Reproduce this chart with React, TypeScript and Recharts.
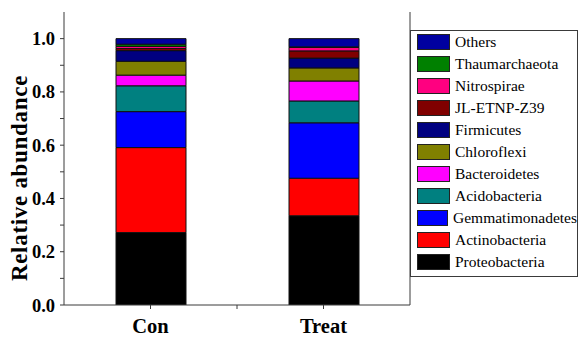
import { BarChart, Bar, XAxis, YAxis } from 'recharts';

// groups and phyla
const groups = ['Con', 'Treat'];
const phyla = [
  'Proteobacteria',
  'Actinobacteria',
  'Gemmatimonadetes',
  'Acidobacteria',
  'Bacteroidetes',
  'Chloroflexi',
  'Firmicutes',
  'JL-ETNP-Z39',
  'Nitrospirae',
  'Thaumarchaeota',
  'Others',
];
const conValues = [0.272, 0.319, 0.135, 0.097, 0.04, 0.052, 0.04, 0.008, 0.008, 0.008, 0.021];
const treatValues = [0.335, 0.141, 0.208, 0.082, 0.075, 0.049, 0.037, 0.027, 0.013, 0.002, 0.031];
const colors = [
  '#000000',
  '#FF0000',
  '#0000FF',
  '#008080',
  '#FF00FF',
  '#808000',
  '#000080',
  '#800000',
  '#FF0080',
  '#008000',
  '#0000A0',
];
const yTicks = [0, 0.1, 0.2, 0.3, 0.4, 0.5, 0.6, 0.7, 0.8, 0.9, 1.0];
const rightTicks = [0.1, 0.2, 0.3, 0.4, 0.5, 0.6, 0.7, 0.8, 0.9, 1.0, 1.1];
const topTicks = [0.9, 1.1, 1.3, 1.5, 1.7, 1.9, 2.1, 2.3];

const data = groups.map((g, gi) => {
  const row: Record<string, string | number> = { group: g };
  const vals = gi === 0 ? conValues : treatValues;
  phyla.forEach((p, i) => {
    row[p] = vals[i];
  });
  return row;
});

const font = 'Liberation Serif';
const axisColor = '#3a3a3a';

// category tick + the in-between tick Origin draws at the band edge
const XTick = (props: any) => {
  const { x, y, payload, index } = props;
  const axisY = y - 6;
  return (
    <g>
      {index === 0 && payload.offset ? (
        <line x1={x + payload.offset} y1={axisY} x2={x + payload.offset} y2={axisY + 4} stroke={axisColor} />
      ) : null}
      <text x={x} y={y + 22} textAnchor="middle" style={{ fontFamily: font }} fontWeight="bold" fontSize={20.5} fill="#000">
        {payload.value}
      </text>
    </g>
  );
};

const YLabel = () => (
  <text
    x={27}
    y={178}
    transform="rotate(-90, 27, 178)"
    textAnchor="middle"
    style={{ fontFamily: font }}
    fontWeight="bold"
    fontSize={23}
    letterSpacing={0.7}
    fill="#000"
  >
    Relative abundance
  </text>
);

export default function App() {
  return (
    <div style={{ position: 'relative', width: 579, height: 337, background: '#fff', fontFamily: font }}>
      <style>{'body{margin:0}'}</style>
      <BarChart width={579} height={337} data={data} margin={{ top: 12, right: 169, bottom: 0, left: 0 }} barSize={70}>
        <XAxis
          dataKey="group"
          height={32}
          stroke={axisColor}
          tickSize={4}
          tickLine={{ stroke: axisColor }}
          tick={<XTick />}
        />
        <XAxis
          xAxisId="top"
          orientation="top"
          type="number"
          domain={[0.5, 2.5]}
          allowDataOverflow
          ticks={topTicks}
          height={0}
          mirror
          tickSize={3}
          tick={false}
          stroke={axisColor}
        />
        <YAxis
          width={64}
          domain={[0, 1.1]}
          allowDataOverflow
          ticks={yTicks}
          interval={0}
          tickSize={4}
          tickMargin={5}
          stroke={axisColor}
          tickFormatter={(v: number) => (Math.round(v * 10) % 2 === 0 ? v.toFixed(1) : '')}
          tick={{ style: { fontFamily: font }, fontWeight: 'bold', fontSize: 18.5, fill: '#000' }}
          label={<YLabel />}
        />
        <YAxis
          yAxisId="right"
          orientation="right"
          domain={[0, 1.1]}
          allowDataOverflow
          ticks={rightTicks}
          interval={0}
          mirror
          tickSize={3}
          tick={false}
          stroke={axisColor}
        />
        {phyla.map((p, i) => (
          <Bar
            key={p}
            dataKey={p}
            stackId="a"
            fill={colors[i]}
            stroke="#111"
            strokeWidth={1}
            isAnimationActive={false}
          />
        ))}
      </BarChart>
      <div
        style={{
          position: 'absolute',
          left: 410,
          top: 30,
          width: 166,
          height: 245,
          border: `1px solid ${axisColor}`,
          background: '#fff',
          fontFamily: font,
          fontSize: 15.5,
          color: '#000',
        }}
      >
        {phyla
          .map((p, i) => ({ p, c: colors[i] }))
          .reverse()
          .map(({ p, c }) => (
            <div key={p} style={{ display: 'flex', alignItems: 'center', height: 22 }}>
              <span
                style={{
                  display: 'inline-block',
                  width: 31,
                  height: 14,
                  marginLeft: 6,
                  marginRight: 5,
                  background: c,
                  border: '1px solid #222',
                }}
              />
              <span style={{ whiteSpace: 'nowrap', lineHeight: '22px' }}>{p}</span>
            </div>
          ))}
      </div>
    </div>
  );
}
